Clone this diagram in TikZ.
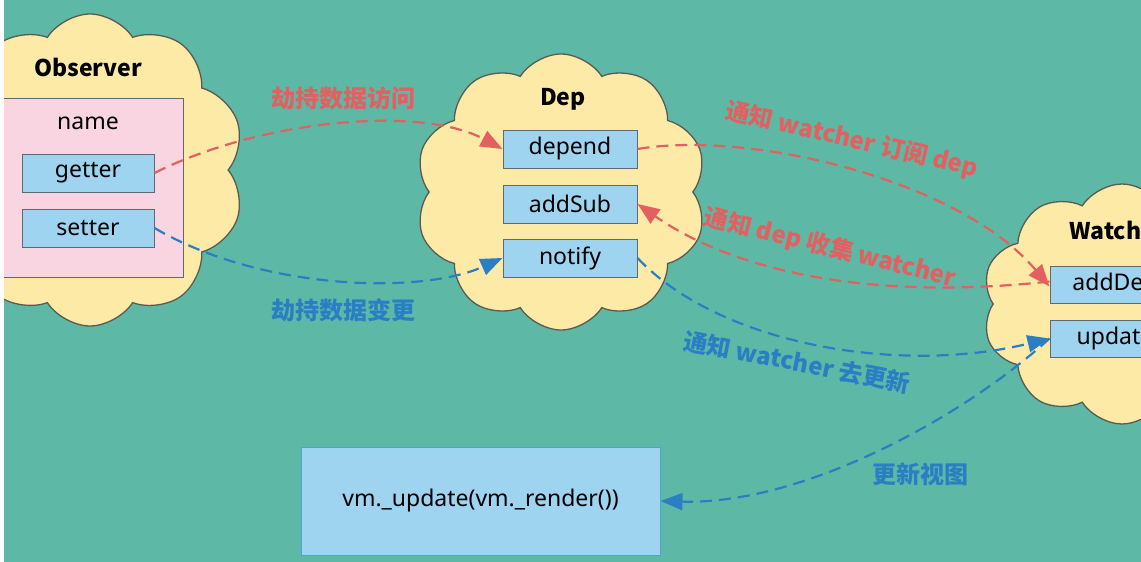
\documentclass[tikz,border=0pt]{standalone}
\usepackage{fontspec}
\setmainfont{Noto Sans}
\newfontfamily\cjk{Noto Sans CJK SC}
\usepackage{tikz}
\usetikzlibrary{shapes.symbols}
\usetikzlibrary{arrows.meta}
\usetikzlibrary{positioning}

\definecolor{bgteal}{HTML}{5DB9A6}
\definecolor{cloudfill}{HTML}{FDEAA6}
\definecolor{pinkfill}{HTML}{F9D5E1}
\definecolor{boxblue}{HTML}{9FD4F0}
\definecolor{boxline}{HTML}{5E6A72}
\definecolor{cloudline}{HTML}{5A5A50}
\definecolor{redline}{HTML}{E2605F}
\definecolor{blueline}{HTML}{2A7FC4}
\definecolor{vmline}{HTML}{4BA3DC}

\begin{document}
\begin{tikzpicture}[%
  x=1pt, y=-1pt,
  puff/.style={cloud, cloud puffs=10, cloud puff arc=115, cloud ignores aspect,
    draw=cloudline, line width=1.3pt, fill=cloudfill},
  field/.style={draw=boxline, line width=1pt, fill=boxblue, minimum width=134pt,
    minimum height=38pt, inner sep=0pt, font=\fontsize{23}{23}\selectfont},
  title/.style={font=\cjk\fontsize{23}{23}\selectfont\bfseries},
  lab/.style={font=\cjk\fontsize{24}{24}\selectfont\bfseries},
  flow/.style={line width=2.2pt, dash pattern=on 12pt off 7pt,
    -{Triangle[length=22pt,width=17pt]}}]

  \useasboundingbox (0,0) rectangle (1141,562);
  \fill[white] (0,0) rectangle (1141,562);
  \fill[bgteal] (4,0) rectangle (1141,562);
  \begin{scope}
  \clip (4,0) rectangle (1141,562);

  % Observer
  \node[puff, minimum width=310pt, minimum height=312pt] (obs) at (90,170) {};
  \node[title] (obstitle) at (88,67) {Observer};
  \node[draw=boxline, line width=1pt, fill=pinkfill, minimum width=200pt,
    minimum height=179pt] (panel) at (83,187.5) {};
  \node[font=\fontsize{23}{23}\selectfont] (name) at (88,123) {name};
  \node[field, minimum width=132pt] (get) at (88,173) {getter};
  \node[field, minimum width=132pt] (set) [below=16pt of get] {setter};

  % Dep
  \node[puff, minimum width=292pt, minimum height=276pt] (dep) at (561,192) {};
  \node[title] (deptitle) at (563,99) {Dep};
  \node[field] (depend) at (570,149) {depend};
  \node[field] (addsub) [below=16pt of depend] {addSub};
  \node[field] (notify) [below=15pt of addsub] {notify};

  % Watcher
  \node[puff, minimum width=280pt, minimum height=240pt] (wat) at (1122,304) {};
  \node[title, anchor=west] (wattitle) at (1066,230) {Watcher};
  \node[field, minimum width=130pt, minimum height=37pt] (adddep) at (1115,284.5) {addDep};
  \node[field, minimum width=130pt, minimum height=37pt] (upd) at (1115,338.5) {update};

  % render
  \node[draw=vmline, line width=1pt, fill=boxblue, minimum width=359pt,
    minimum height=108pt, font=\fontsize{23}{23}\selectfont] (vm) at (480.5,501) {vm.\_update(vm.\_render())};

  % connectors
  \draw[flow, redline] (get.east) .. controls (260,120) and (420,105) .. (depend.west);
  \draw[flow, blueline] (set.east) .. controls (260,290) and (420,295) .. (notify.west);
  \draw[flow, redline] (depend.east) .. controls (750,130) and (960,180) .. ([yshift=-2pt]adddep.west);
  \draw[flow, redline] ([yshift=3pt]adddep.west) .. controls (880,300) and (740,275) .. (addsub.east);
  \draw[flow, blueline] (notify.east) .. controls (720,345) and (900,375) .. (upd.west);
  \draw[flow, blueline] (upd.west) .. controls (960,420) and (800,505) .. (vm.east);

  \node[lab, text=redline] (l1) at (343,98) {劫持数据访问};
  \node[lab, text=blueline] (l2) at (343,310) {劫持数据变更};
  \node[lab, text=redline, rotate=-13] (l3) at (852,140) {通知 watcher 订阅 dep};
  \node[lab, text=redline, rotate=-14] (l4) at (830,248) {通知 dep 收集 watcher};
  \node[lab, text=blueline, rotate=-11] (l5) at (797,362) {通知 watcher 去更新};
  \node[lab, text=blueline] (l6) at (920,474) {更新视图};
  \end{scope}
\end{tikzpicture}
\end{document}
